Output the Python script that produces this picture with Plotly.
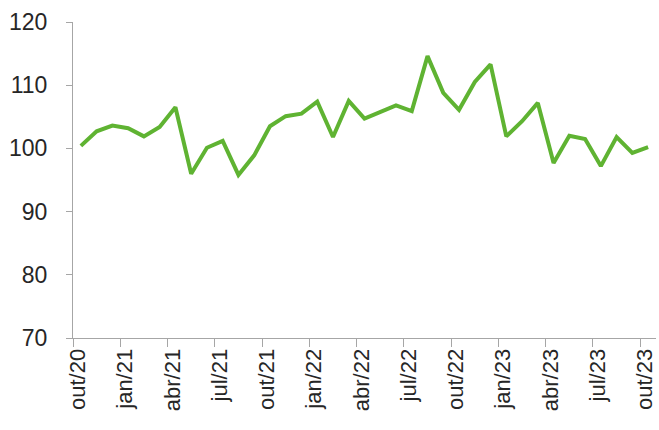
import plotly.graph_objects as go

months = ["out/20","nov/20","dez/20","jan/21","fev/21","mar/21","abr/21","mai/21","jun/21","jul/21","ago/21","set/21",
          "out/21","nov/21","dez/21","jan/22","fev/22","mar/22","abr/22","mai/22","jun/22","jul/22","ago/22","set/22",
          "out/22","nov/22","dez/22","jan/23","fev/23","mar/23","abr/23","mai/23","jun/23","jul/23","ago/23","set/23","out/23"]
values = [100.4, 102.7, 103.6, 103.2, 101.9, 103.4, 106.5, 96.0, 100.1, 101.2, 95.8, 98.9,
          103.5, 105.1, 105.5, 107.4, 101.8, 107.5, 104.7, 105.8, 106.8, 105.9, 114.6, 108.8,
          106.1, 110.5, 113.3, 101.9, 104.3, 107.2, 97.7, 102.0, 101.5, 97.2, 101.8, 99.3, 100.2]
y_ticks = [70, 80, 90, 100, 110, 120]

idx = list(range(len(months)))
label_idx = idx[::3]
label_txt = [months[i] for i in label_idx]
boundary_ticks = [i - 0.5 for i in label_idx]

fig = go.Figure()
fig.add_trace(go.Scatter(x=idx, y=values, mode="lines",
                         line=dict(color="#5FB332", width=4), showlegend=False))
# invisible trace to activate second x axis
fig.add_trace(go.Scatter(x=[idx[0]], y=[values[0]], xaxis="x2", mode="markers",
                         marker=dict(opacity=0), showlegend=False, hoverinfo="skip"))

yfont = dict(family="Liberation Sans, Arial, sans-serif", size=23, color="#262626")
xfont = dict(family="Liberation Sans, Arial, sans-serif", size=22, color="#262626")
xr = [-0.5, len(months) - 0.5]

fig.update_layout(
    width=659, height=430,
    margin=dict(l=73, r=3, t=22, b=92),
    plot_bgcolor="white", paper_bgcolor="white",
    xaxis=dict(range=xr, tickmode="array", tickvals=label_idx, ticktext=label_txt,
               tickangle=-90, ticks="", showgrid=False, zeroline=False,
               showline=True, linecolor="#A6A6A6", linewidth=1,
               tickfont=xfont, ticklabelstandoff=1, automargin=False,
               ticklabeloverflow="allow", ticklabelshift=-3),
    xaxis2=dict(range=xr, overlaying="x", side="bottom", anchor="y",
                tickmode="array", tickvals=boundary_ticks, showticklabels=False,
                ticks="outside", ticklen=8, tickcolor="#A6A6A6", tickwidth=1,
                showgrid=False, zeroline=False, showline=False, automargin=False),
    yaxis=dict(range=[70, 120], tickmode="array", tickvals=y_ticks,
               ticks="outside", ticklen=6, tickcolor="#A6A6A6", tickwidth=1,
               showgrid=False, zeroline=False, showline=True,
               linecolor="#A6A6A6", linewidth=1, tickfont=yfont,
               ticklabelstandoff=14, automargin=False),
)

fig.write_html("out.html", config={"displayModeBar": False},
               post_script="document.body.style.margin='0';document.body.style.overflow='hidden';")
